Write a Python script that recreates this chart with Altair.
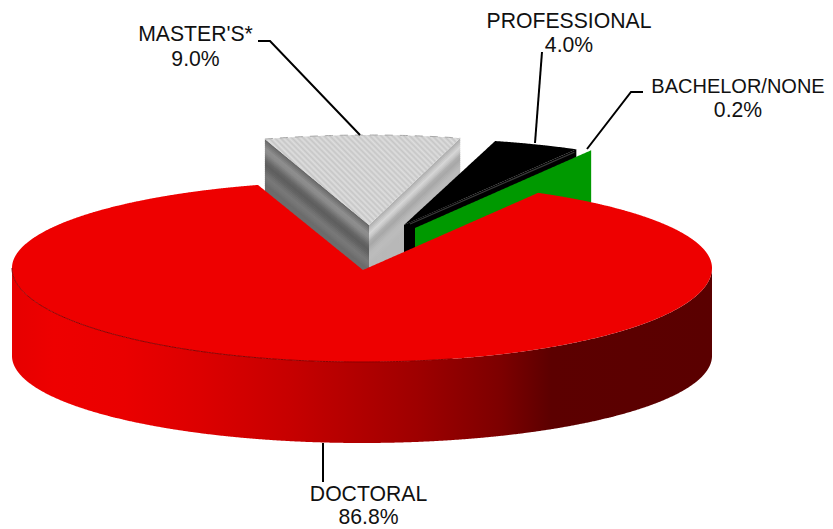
import math
import altair as alt
import pandas as pd

# ---- chart values ----
categories = ["DOCTORAL", "MASTER'S*", "PROFESSIONAL", "BACHELOR/NONE"]
shares = [86.8, 9.0, 4.0, 0.2]
share_labels = ["86.8%", "9.0%", "4.0%", "0.2%"]

# ---- picture geometry (pixels of the page) ----
W, H = 817, 521
RX, RY_BACK, RY_FRONT = 350, 87, 94
CX, CY = 362, 268
DEPTH_CY = 356
DEPTH_RY = 87
START = -17.3

deg = [s * 3.6 for s in shares]
a_master0 = START
a_master1 = a_master0 + deg[1]
a_prof1 = a_master1 + deg[2]
a_bach1 = a_prof1 + deg[3]
a_doc0 = a_bach1
a_doc1 = a_doc0 + deg[0]


def rim(theta, cx, cy, ry_back=RY_BACK, ry_front=RY_FRONT):
    t = math.radians(theta)
    c = math.cos(t)
    return (cx + RX * math.sin(t), cy - (ry_back if c > 0 else ry_front) * c)


def arc(a0, a1, cx, cy, ry_back=RY_BACK, ry_front=RY_FRONT, n=None):
    n = n or max(2, int(abs(a1 - a0) * 2))
    return [rim(a0 + (a1 - a0) * i / n, cx, cy, ry_back, ry_front) for i in range(n + 1)]


def envelope(poly):
    """Turn an x-monotone polygon into rows x, y (upper), y2 (lower)."""
    xs0 = [p[0] for p in poly]
    lo, hi = min(xs0), max(xs0)
    grid = set(round(x, 3) for x in xs0)
    x = math.ceil(lo)
    while x < hi:
        grid.add(float(x))
        x += 1
    rows = []
    n = len(poly)
    for x in sorted(grid):
        ys = []
        for i in range(n):
            (a, b), (c, d) = poly[i], poly[(i + 1) % n]
            a3, c3 = round(a, 3), round(c, 3)
            if min(a3, c3) <= x <= max(a3, c3):
                if a3 == c3:
                    ys += [b, d]
                else:
                    ys.append(b + (d - b) * (x - a3) / (c3 - a3))
        if ys:
            rows.append({"x": x, "y": min(ys), "y2": max(ys)})
    return pd.DataFrame(rows)


xs = alt.Scale(domain=[8, 8 + W], range=[0, W], nice=False, zero=False)
ys = alt.Scale(domain=[8 + H, 8], range=[H, 0], nice=False, zero=False)


def area(poly, color):
    return alt.Chart(envelope(poly)).mark_area(color=color, interpolate="linear", stroke=None).encode(
        x=alt.X("x:Q", scale=xs, axis=None),
        y=alt.Y("y:Q", scale=ys, axis=None),
        y2="y2:Q",
    )


def path(points, color="#000000", width=2.0, dash=None):
    df = pd.DataFrame([{"x": p[0], "y": p[1], "o": i} for i, p in enumerate(points)])
    kw = {"strokeDash": dash} if dash else {}
    return alt.Chart(df).mark_line(color=color, strokeWidth=width, interpolate="linear", **kw).encode(
        x=alt.X("x:Q", scale=xs, axis=None),
        y=alt.Y("y:Q", scale=ys, axis=None),
        order="o:Q",
    )


def smooth(levels):
    """Grey bands of half the width, between the read grey levels."""
    out = []
    for a, b in zip(levels, levels[1:] + levels[-1:]):
        out += [a, (a + b) // 2]
    return ["#%02x%02x%02x" % (v, v, v) for v in out]


layers = []

# red side wall
front = arc(90, 270, CX, CY)
front_low = arc(270, 90, CX, DEPTH_CY, DEPTH_RY, DEPTH_RY)
side_stops = [(0, "#e60000"), (0.06, "#ee0000"), (0.16, "#ea0000"), (0.27, "#dc0000"),
              (0.40, "#c60000"), (0.50, "#b00000"), (0.58, "#9e0000"), (0.70, "#7c0000"),
              (0.77, "#5c0000"), (1, "#5a0000")]
side_grad = alt.LinearGradient(gradient="linear", x1=0, x2=1, y1=0, y2=0,
                               stops=[alt.GradientStop(offset=o, color=c) for o, c in side_stops])
layers.append(area(front + front_low, side_grad))

# master's wedge: raised walls in bands
M_APEX = (369.0, 225.0)
m_back = 90
m_p0 = rim(a_master0, M_APEX[0], M_APEX[1], m_back)
m_p1 = rim(a_master1, M_APEX[0], M_APEX[1], m_back)
left_bands = smooth([0x6a, 0x7c, 0x8e, 0x8a, 0x78, 0x66, 0x5e, 0x64, 0x70, 0x78, 0x74, 0x6c])
right_bands = smooth([0xb0, 0xc4, 0xd6, 0xc6, 0xae, 0xa8, 0xb2, 0xba, 0xbc, 0xba, 0xb8, 0xb8])
band = 2.0
for i, c in enumerate(left_bands):
    t, b = i * band, (i + 1) * band + (1.0 if i < len(left_bands) - 1 else 40)
    layers.append(area([(m_p0[0], m_p0[1] + t), (M_APEX[0], M_APEX[1] + t),
                        (M_APEX[0], M_APEX[1] + b), (m_p0[0], m_p0[1] + b)], c))
for i, c in enumerate(right_bands):
    t, b = i * band, (i + 1) * band + (1.0 if i < len(right_bands) - 1 else 40)
    layers.append(area([(M_APEX[0], M_APEX[1] + t), (m_p1[0], m_p1[1] + t),
                        (m_p1[0], m_p1[1] + b), (M_APEX[0], M_APEX[1] + b)], c))

# master's top with diagonal hatch
m_top = [M_APEX] + arc(a_master0, a_master1, M_APEX[0], M_APEX[1], m_back)
r = 90.0 / 195.0
k = (1 + r) / (1 + r * r)
hatch = []
n_stripes = 50
for i in range(n_stripes):
    hatch.append(alt.GradientStop(offset=i / n_stripes, color="#c6c6c6"))
    hatch.append(alt.GradientStop(offset=(i + 0.5) / n_stripes, color="#dedede"))
hatch.append(alt.GradientStop(offset=1, color="#c6c6c6"))
m_grad = alt.LinearGradient(gradient="linear", x1=1, y1=0, x2=1 - k, y2=k * r, stops=hatch)
layers.append(area(m_top, m_grad))
layers.append(path(arc(a_master0, a_master1, M_APEX[0], M_APEX[1], m_back), "#a8a8a8", 1.0, [8, 7]))

# professional wedge
P_APEX = (404.0, 225.0)
p_p0 = rim(a_master1, P_APEX[0], P_APEX[1])
p_p1 = rim(a_prof1, P_APEX[0], P_APEX[1])
layers.append(area([P_APEX, p_p1, (p_p1[0], p_p1[1] + 40), (P_APEX[0], P_APEX[1] + 40)], "#000000"))

# bachelor / none wall
B_APEX = (415.0, 228.0)
b_p1 = rim(a_bach1, B_APEX[0], B_APEX[1], RY_BACK + 3)
layers.append(area([B_APEX, b_p1, (b_p1[0], b_p1[1] + 87), (B_APEX[0], B_APEX[1] + 87)], "#009900"))

layers.append(area([P_APEX] + arc(a_master1, a_prof1, P_APEX[0], P_APEX[1]), "#000000"))
layers.append(path([(P_APEX[0] + 6, P_APEX[1] - 1), (p_p1[0] - 2, p_p1[1] + 3)], "#3a3a3a", 1.2))

# red top
red_top = [(CX + 1, CY + 2)] + arc(a_doc0, a_doc1, CX, CY)
layers.append(area(red_top, "#ee0000"))
layers.append(path(arc(165, 270, CX, CY), "#8a0000", 1.0))

# leader lines
layers.append(path([(258, 41), (270, 41), (360, 135)]))
layers.append(path([(542, 52), (535, 143)]))
layers.append(path([(643, 92), (631, 92), (587, 149)]))
layers.append(path([(323, 443), (323, 482)]))

# labels: one row per text line
anchor_x = [368.5, 195.5, 569, 738]
name_y = [501, 41, 27.5, 93]
pct_y = [524, 66, 52, 117]
text_sizes = [21.2, 21.2, 21.2, 20.0]
text_rows = []
for i, cat in enumerate(categories):
    text_rows.append({"x": anchor_x[i], "y": name_y[i], "t": cat, "s": text_sizes[i]})
    text_rows.append({"x": anchor_x[i], "y": pct_y[i], "t": share_labels[i], "s": 21.2})
text_df = pd.DataFrame(text_rows)
for size, part in text_df.groupby("s"):
    layers.append(
        alt.Chart(part).mark_text(
            font="Liberation Sans", fontSize=float(size), color="#111111", align="center", baseline="alphabetic"
        ).encode(
            x=alt.X("x:Q", scale=xs, axis=None),
            y=alt.Y("y:Q", scale=ys, axis=None),
            text="t:N",
        )
    )

chart = alt.layer(*layers).properties(
    width=W, height=H, padding=0, autosize=alt.AutoSizeParams(type="none"), background="#ffffff"
).configure_view(stroke=None)

chart.save("out.html", embed_options={"renderer": "svg", "actions": False})
